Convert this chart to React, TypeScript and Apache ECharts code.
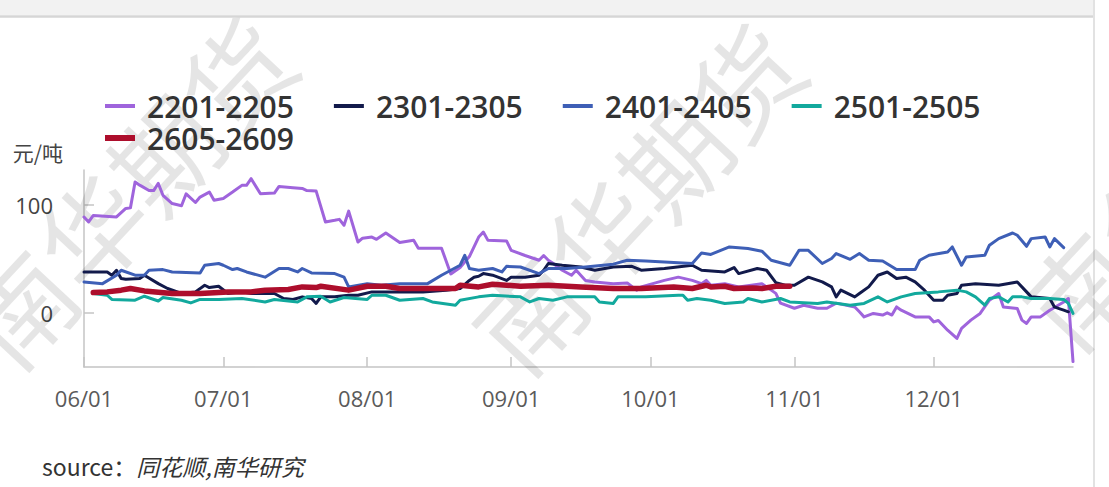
import React, { useEffect, useRef } from 'react';
import * as echarts from 'echarts';

const YEAR = 2025;
const seriesNames = ['2201-2205', '2301-2305', '2401-2405', '2501-2505', '2605-2609'];
const seriesColors = ['#9f64dc', '#121a4b', '#3e5fb6', '#12a99d', '#ad0e2c'];
const monthTicks = ['06-01', '07-01', '08-01', '09-01', '10-01', '11-01', '12-01'];
const yTicks = [0, 100];
const yUnit = '元/吨';
const sourceLabel = 'source：';
const sourceText = '同花顺,南华研究';
const watermarkText = '南华期货';

const s2201: [string, number][] = [
  ['06-01', 88.6], ['06-02', 84], ['06-03', 90], ['06-08', 88.6], ['06-10', 96.5], ['06-11', 97],
  ['06-12', 121], ['06-13', 118], ['06-15', 113], ['06-16', 113], ['06-17', 119.6], ['06-18', 108.6],
  ['06-20', 101], ['06-22', 99], ['06-23', 110], ['06-25', 102], ['06-26', 107], ['06-28', 111.6],
  ['06-29', 104], ['07-01', 105.7], ['07-03', 111.6], ['07-05', 117.8], ['07-06', 117.8], ['07-07', 124],
  ['07-09', 110], ['07-12', 110.7], ['07-13', 116.8], ['07-16', 115.7], ['07-18', 115], ['07-19', 113],
  ['07-21', 112.5], ['07-23', 84], ['07-25', 85.5], ['07-26', 86.4], ['07-27', 81], ['07-28', 94],
  ['07-30', 65.5], ['07-31', 69], ['08-02', 70], ['08-03', 68], ['08-05', 73.8], ['08-08', 65],
  ['08-11', 67], ['08-12', 59.7], ['08-17', 59.7], ['08-19', 36], ['08-21', 42], ['08-23', 52],
  ['08-25', 70], ['08-26', 74.7], ['08-27', 67], ['08-31', 66.5], ['09-01', 57.8], ['09-04', 53],
  ['09-07', 48.6], ['09-08', 53], ['09-09', 48.6], ['09-10', 45.8], ['09-12', 39.4], ['09-14', 34.8],
  ['09-15', 39.4], ['09-17', 30], ['09-19', 28.6], ['09-23', 27], ['09-26', 27.7], ['09-28', 21],
  ['09-29', 24], ['10-04', 30], ['10-07', 33], ['10-10', 30], ['10-12', 27], ['10-13', 30],
  ['10-14', 25.5], ['10-17', 27], ['10-20', 24], ['10-25', 27], ['10-28', 18], ['10-29', 9],
  ['11-01', 4.3], ['11-03', 7], ['11-06', 4.3], ['11-08', 4.3], ['11-10', 9], ['11-14', 5.5],
  ['11-15', 1], ['11-16', -3.7], ['11-18', -0.5], ['11-20', -2], ['11-21', 0], ['11-22', -2],
  ['11-23', 5.5], ['11-24', 2.5], ['11-27', -3.7], ['11-30', -3.7], ['12-01', -8.3], ['12-02', -7],
  ['12-04', -16], ['12-06', -23.6], ['12-07', -14.4], ['12-09', -6.7], ['12-11', -0.5], ['12-13', 11.7],
  ['12-15', 17.9], ['12-16', 5.5], ['12-19', 4], ['12-20', -6.7], ['12-21', -9.8], ['12-22', -3.7],
  ['12-24', -3.7], ['12-26', 2.5], ['12-29', 10], ['12-30', 13.3], ['12-31', -45],
];

const s2301: [string, number][] = [
  ['06-01', 37.8], ['06-06', 37.8], ['06-07', 34.8], ['06-08', 39.4], ['06-09', 31.7], ['06-10', 31],
  ['06-13', 31.7], ['06-14', 34.8], ['06-17', 27], ['06-19', 22.5], ['06-22', 17.9], ['06-25', 19.4],
  ['06-27', 25.5], ['06-28', 23.4], ['06-30', 24.6], ['07-02', 17.9], ['07-05', 19.4], ['07-07', 17.9],
  ['07-12', 17.9], ['07-14', 13.3], ['07-16', 12.4], ['07-18', 14.8], ['07-20', 13.3], ['07-21', 8.7],
  ['07-22', 14.8], ['07-25', 14.8], ['07-28', 16.3], ['07-30', 16.3], ['08-02', 19.4], ['08-08', 19.4],
  ['08-13', 19.4], ['08-18', 21], ['08-21', 22.5], ['08-23', 30], ['08-24', 33], ['08-25', 33.9],
  ['08-26', 36.3], ['08-28', 34.8], ['08-31', 30], ['09-01', 33], ['09-04', 33], ['09-07', 34.8],
  ['09-08', 39.4], ['09-09', 45.6], ['09-12', 44], ['09-16', 42.4], ['09-19', 39.4], ['09-23', 42.4],
  ['09-27', 43], ['09-29', 39.4], ['10-04', 41], ['10-10', 44], ['10-12', 39.4], ['10-17', 37.8],
  ['10-19', 41.9], ['10-20', 36.3], ['10-24', 41], ['10-26', 39.4], ['10-28', 28], ['10-30', 25.5],
  ['11-01', 25.5], ['11-04', 33], ['11-07', 28.6], ['11-09', 24], ['11-10', 14.8], ['11-11', 21],
  ['11-14', 14.8], ['11-15', 17.9], ['11-17', 24], ['11-19', 34.8], ['11-21', 37.8], ['11-23', 31.7],
  ['11-25', 33], ['11-27', 28.6], ['11-29', 21], ['12-01', 11.7], ['12-03', 11.7], ['12-04', 16.3],
  ['12-06', 17.9], ['12-07', 25.5], ['12-10', 27], ['12-15', 25.5], ['12-19', 28.6], ['12-21', 19.4],
  ['12-22', 14.8], ['12-26', 13.3], ['12-27', 5.5], ['12-28', 4], ['12-29', 2.5], ['12-30', 1],
];

const s2401: [string, number][] = [
  ['06-01', 28.6], ['06-05', 27], ['06-08', 34.8], ['06-09', 39.4], ['06-12', 34.8], ['06-14', 34.8],
  ['06-15', 39.4], ['06-18', 40], ['06-20', 37.8], ['06-26', 36.9], ['06-27', 44], ['06-30', 45.6],
  ['07-01', 44], ['07-03', 40], ['07-04', 41], ['07-06', 37.8], ['07-10', 33], ['07-13', 41],
  ['07-15', 41], ['07-17', 37.8], ['07-18', 41], ['07-20', 36.9], ['07-25', 36.3], ['07-27', 33],
  ['07-28', 24], ['08-01', 27], ['08-04', 25.5], ['08-08', 27], ['08-14', 27], ['08-17', 34.8],
  ['08-19', 39.4], ['08-21', 44], ['08-22', 53.2], ['08-23', 41], ['08-25', 39.4], ['08-28', 41],
  ['08-30', 37.8], ['08-31', 43], ['09-03', 42.4], ['09-07', 36.3], ['09-09', 41], ['09-13', 41],
  ['09-17', 42.4], ['09-23', 45], ['09-26', 48.6], ['09-30', 48], ['10-10', 45.6], ['10-12', 55.4],
  ['10-14', 54], ['10-18', 60.9], ['10-22', 59.4], ['10-25', 57], ['10-27', 48.6], ['10-31', 44],
  ['11-02', 57.8], ['11-04', 57.8], ['11-07', 45.6], ['11-09', 50.2], ['11-10', 54.8], ['11-13', 49.5],
  ['11-15', 54.8], ['11-17', 48.6], ['11-20', 48], ['11-23', 40], ['11-27', 40], ['11-28', 48.6],
  ['11-30', 53.2], ['12-04', 56.3], ['12-05', 60.9], ['12-07', 44], ['12-08', 51.7], ['12-12', 53.2],
  ['12-13', 62.5], ['12-15', 68.6], ['12-18', 73.8], ['12-19', 71.7], ['12-21', 61.5], ['12-22', 68.6],
  ['12-25', 70.1], ['12-26', 60.9], ['12-27', 68.6], ['12-29', 60.3],
];

const s2501: [string, number][] = [
  ['06-03', 17.9], ['06-06', 16.3], ['06-07', 12.4], ['06-12', 11.7], ['06-14', 15.4], ['06-17', 11],
  ['06-18', 14.2], ['06-22', 11.7], ['06-24', 9.2], ['06-26', 12.4], ['06-30', 12.4], ['07-05', 13.3],
  ['07-10', 10.1], ['07-12', 12.4], ['07-17', 10.1], ['07-19', 14.8], ['07-22', 15.4], ['07-24', 10.1],
  ['07-27', 14.2], ['08-01', 12.4], ['08-02', 16.3], ['08-05', 16.3], ['08-08', 11.7], ['08-13', 13.3],
  ['08-15', 10.1], ['08-20', 7.1], ['08-21', 11.7], ['08-25', 14.8], ['08-28', 16.3], ['09-03', 14.8],
  ['09-05', 10.1], ['09-07', 13.3], ['09-10', 11.7], ['09-13', 14.8], ['09-19', 14.8], ['09-20', 10.1],
  ['09-23', 8.7], ['09-24', 14.8], ['09-30', 14.8], ['10-07', 16.3], ['10-08', 16.3], ['10-09', 11.7],
  ['10-11', 13.3], ['10-14', 11.7], ['10-17', 8.7], ['10-21', 10.1], ['10-22', 13.3], ['10-25', 10.1],
  ['10-29', 13.3], ['10-31', 10.1], ['11-06', 8.7], ['11-08', 10.1], ['11-13', 7.1], ['11-16', 8.7],
  ['11-19', 14.8], ['11-21', 10.1], ['11-24', 14.8], ['11-27', 17.9], ['12-02', 19.4], ['12-06', 21],
  ['12-08', 19.4], ['12-10', 14.8], ['12-12', 7.1], ['12-13', 13.3], ['12-15', 14.8], ['12-17', 10.1],
  ['12-18', 14.8], ['12-20', 14.8], ['12-22', 13.3], ['12-26', 13.3], ['12-29', 12.4], ['12-30', 8.7],
  ['12-31', -0.5],
];

const s2605: [string, number][] = [
  ['06-03', 18.8], ['06-06', 19.4], ['06-09', 21], ['06-11', 22.5], ['06-14', 20.3], ['06-20', 17.9],
  ['06-26', 17.9], ['07-02', 19.4], ['07-07', 19.4], ['07-10', 21], ['07-15', 21.6], ['07-18', 24],
  ['07-21', 23.4], ['07-22', 24.6], ['07-28', 21], ['08-01', 24.6], ['08-05', 24.6], ['08-08', 22.5],
  ['08-11', 22.5], ['08-20', 22.5], ['08-21', 25.5], ['08-25', 24], ['08-28', 26.5], ['09-03', 24.6],
  ['09-09', 25.5], ['09-16', 24], ['09-23', 22.5], ['09-29', 22.5], ['10-06', 24], ['10-10', 22.5],
  ['10-13', 25.5], ['10-14', 24], ['10-17', 24.6], ['10-19', 22.5], ['10-23', 23], ['10-25', 22.5],
  ['10-28', 24.6], ['10-31', 24.6],
];

const seriesData = [s2201, s2301, s2401, s2501, s2605];
const lineWidths = [3, 3, 3, 3, 5.5];

const toTime = (md: string) => {
  const [m, d] = md.split('-').map(Number);
  return new Date(YEAR, m - 1, d).getTime();
};
const pad2 = (n: number) => (n < 10 ? '0' + n : '' + n);

const FONT = "'Open Sans', 'Noto Sans CJK SC', sans-serif";
const CJK = "'Noto Sans CJK SC', 'Open Sans', sans-serif";

export default function App() {
  const ref = useRef<HTMLDivElement>(null);
  useEffect(() => {
    if (!ref.current) return;
    const chart = echarts.init(ref.current, undefined, { renderer: 'svg' });
    const tickTimes = monthTicks.map(toTime);
    const legendText = {
      fontSize: 30,
      fontWeight: 600,
      color: '#333333',
      fontFamily: FONT,
      padding: [0, 0, 0, 7],
    };
    const watermark = (x: number, y: number) => ({
      type: 'text',
      x,
      y,
      rotation: (47 * Math.PI) / 180,
      z: 1,
      silent: true,
      style: {
        text: watermarkText,
        fontSize: 106,
        fontFamily: CJK,
        fontWeight: 400,
        fill: 'rgba(0,0,0,0.1)',
        align: 'center',
        verticalAlign: 'middle',
      },
    });
    chart.setOption({
      animation: false,
      backgroundColor: '#ffffff',
      grid: { left: 84, right: 36, top: 170, bottom: 120, containLabel: false },
      legend: [
        {
          data: seriesNames.slice(0, 4),
          left: 105,
          top: 91,
          padding: 0,
          icon: 'rect',
          itemWidth: 30,
          itemHeight: 4,
          itemGap: 40,
          textStyle: legendText,
          selectedMode: false,
        },
        {
          data: seriesNames.slice(4),
          left: 105,
          top: 123,
          padding: 0,
          icon: 'rect',
          itemWidth: 30,
          itemHeight: 6,
          itemGap: 40,
          textStyle: legendText,
          selectedMode: false,
        },
      ],
      xAxis: {
        type: 'value',
        min: toTime('06-01'),
        max: toTime('12-31'),
        axisLine: { show: true, onZero: false, lineStyle: { color: '#c4c4c4', width: 1.5 } },
        axisTick: {
          show: true,
          inside: true,
          length: 10,
          customValues: tickTimes,
          lineStyle: { color: '#c4c4c4', width: 1.5 },
        },
        axisLabel: {
          customValues: tickTimes,
          formatter: (v: number) => {
            const d = new Date(v);
            return pad2(d.getMonth() + 1) + '/' + pad2(d.getDate());
          },
          fontSize: 22,
          color: '#5a5a5a',
          fontFamily: FONT,
          margin: 20,
        },
        splitLine: { show: false },
      },
      yAxis: {
        type: 'value',
        min: -50,
        max: 132,
        name: yUnit,
        nameLocation: 'end',
        nameGap: 8,
        nameTextStyle: {
          fontSize: 21,
          color: '#444444',
          fontFamily: CJK,
          align: 'right',
          padding: [0, 21, 0, 0],
        },
        axisLine: { show: true, lineStyle: { color: '#c4c4c4', width: 1.5 } },
        axisTick: {
          show: true,
          inside: true,
          length: 10,
          customValues: yTicks,
          lineStyle: { color: '#c4c4c4', width: 1.5 },
        },
        axisLabel: {
          customValues: yTicks,
          fontSize: 22,
          color: '#444444',
          fontFamily: FONT,
          margin: 31,
        },
        splitLine: { show: false },
      },
      series: seriesNames.map((name, i) => ({
        name,
        type: 'line',
        color: seriesColors[i],
        showSymbol: false,
        symbol: 'none',
        z: 2 + i,
        lineStyle: { width: lineWidths[i], color: seriesColors[i], join: 'round', cap: 'round' },
        emphasis: { disabled: true },
        data: seriesData[i].map(([d, v]) => [toTime(d), v]),
      })),
      graphic: [
        { type: 'rect', z: 0, silent: true, shape: { x: 0, y: 0, width: 1094, height: 15 }, style: { fill: '#f2f2f2' } },
        { type: 'line', z: 0, silent: true, shape: { x1: 0, y1: 16.5, x2: 1094, y2: 16.5 }, style: { stroke: '#d6d6d6', lineWidth: 2.5 } },
        { type: 'line', z: 0, silent: true, shape: { x1: 1094, y1: 0, x2: 1094, y2: 487 }, style: { stroke: '#e2e2e2', lineWidth: 2 } },
        watermark(126, 190),
        watermark(635, 196),
        watermark(1186, 172),
        {
          type: 'text',
          x: 42,
          y: 466,
          z: 10,
          style: {
            text: '{a|' + sourceLabel + '}{b|' + sourceText + '}',
            verticalAlign: 'middle',
            rich: {
              a: { fontSize: 23, fontFamily: CJK, fill: '#333333' },
              b: { fontSize: 23, fontFamily: CJK, fontStyle: 'italic', fill: '#333333' },
            },
          },
        },
      ],
    });
    return () => chart.dispose();
  }, []);
  return <div ref={ref} style={{ position: 'fixed', left: 0, top: 0, width: 1109, height: 487 }} />;
}
